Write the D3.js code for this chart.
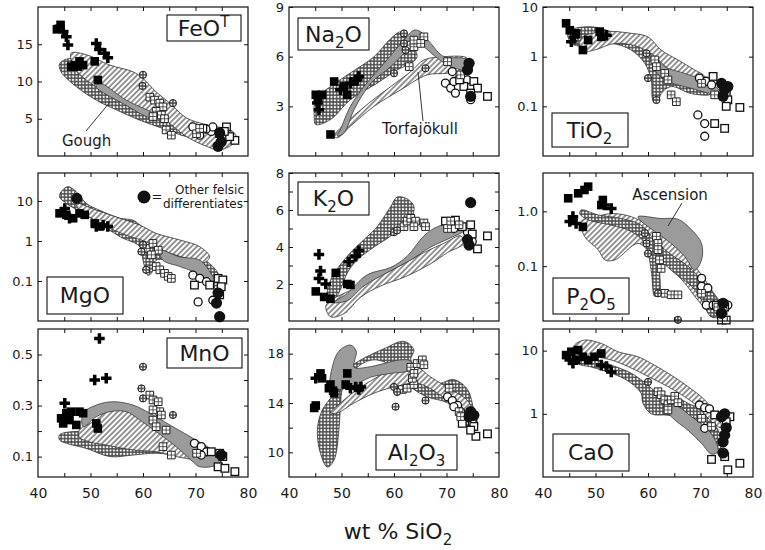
<!DOCTYPE html>
<html>
<head>
<meta charset="utf-8">
<script src="https://cdnjs.cloudflare.com/ajax/libs/d3/7.8.5/d3.min.js"></script>
<style>
body { margin: 0; background: #fff; }
text { font-family: "DejaVu Sans", "Liberation Sans", Arial, sans-serif; fill: #1a1a1a; }
</style>
</head>
<body>
<svg id="chart" width="765" height="550"></svg>
<script>
// ---DATA---//
// point codes: P plus, S filled square, C filled circle (other felsic),
// Q open square, O open circle, G gridded square, H hatched circle
var xLabels = ["40", "50", "60", "70", "80"];
var xMinor = [45, 50, 55, 60, 65, 70, 75];

var feotTicks = ["5", "10", "15"];
var na2oTicks = ["3", "6", "9"];
var tio2Ticks = ["10", "1", "0.1"];
var mgoTicks = ["10", "1", "0.1"];
var k2oTicks = ["8", "6", "4", "2"];
var p2o5Ticks = ["1.0", "0.1"];
var mnoTicks = ["0.5", "0.3", "0.1"];
var al2o3Ticks = ["18", "14", "10"];
var caoTicks = ["10", "1"];

var feotPoints = [
	["P",44.1,17.4],["P",44.8,16.7],["P",45.4,16.0],["P",45.7,14.9],["P",51.1,15.1],["P",51.7,14.3],["P",52.7,13.8],["P",53.3,13.2],
	["S",43.6,17.0],["S",44.3,17.6],["S",46.3,12.0],["S",47.0,12.2],["S",47.6,12.0],["S",48.6,12.2],["S",47.9,12.7],["S",50.8,12.7],["S",51.4,10.2],
	["H",60.0,10.9],["H",59.9,9.4],["H",65.7,7.1],
	["G",61.3,7.9],["G",62.2,7.5],["G",63.2,7.1],["G",63.8,6.6],["G",62.5,6.0],["G",63.5,5.5],["G",61.9,5.3],["G",64.1,5.0],["G",64.4,3.5],["G",65.4,2.8],["G",70.2,3.0],["G",70.8,3.7],
	["O",69.5,3.9],["O",70.8,2.8],["O",73.0,3.3],["O",73.3,3.9],["O",72.0,3.6],
	["Q",71.4,3.7],["Q",74.6,3.0],["Q",75.9,3.9],["Q",77.5,2.1],["Q",76.5,2.6],["Q",75.5,3.3],
	["C",74.3,1.3],["C",74.9,1.9],["C",74.6,3.1]
];
var feotGough = [[44.1,12.4],[46.0,13.1],[48.6,12.9],[50.5,11.8],[52.4,10.2],[55.6,8.9],[59.4,7.5],[62.5,6.2],[65.7,4.8],[70.8,3.3],[71.4,2.4],[68.3,2.6],[63.8,3.7],[59.4,4.8],[54.9,6.2],[51.1,7.5],[47.3,9.3],[44.4,11.3]];
var feotTorf = [[46.3,13.8],[49.2,13.6],[53.7,12.2],[58.1,11.3],[60.0,10.4],[62.5,8.6],[65.1,7.1],[68.3,5.1],[72.1,4.2],[77.1,3.3],[77.8,2.1],[74.6,0.8],[72.1,1.3],[68.3,2.6],[63.2,5.3],[58.1,6.6],[53.7,8.2],[49.2,10.2],[47.0,11.8]];
var feotAsc = [[51.1,9.3],[56.8,6.8],[60.6,5.3],[63.2,4.8],[62.5,5.5],[56.8,7.5],[51.7,9.8]];

var na2oPoints = [
	["S",45.1,3.7],["S",46.3,3.7],["S",48.6,4.5],["S",50.5,4.2],["S",51.1,3.7],["S",52.4,4.5],["S",47.9,1.3],["S",45.5,3.4],
	["P",45.4,3.2],["P",45.7,2.8],["P",49.8,4.0],["P",51.7,4.4],["P",53.0,4.6],["P",53.3,4.8],
	["H",60.0,5.0],["H",61.9,7.4],["H",61.9,6.8],["H",62.2,6.4],["H",66.0,5.3],
	["G",62.5,6.7],["G",63.8,6.6],["G",63.8,7.0],["G",65.7,7.2],["G",65.1,6.8],["G",62.9,5.4],["G",70.2,5.7],["G",72.7,4.9],
	["O",71.1,5.1],["O",69.8,4.4],["O",70.8,4.1],["O",71.7,3.8],["O",71.4,4.5],["O",74.6,3.4],["O",74.0,4.6],
	["Q",73.3,4.2],["Q",75.2,4.5],["Q",75.9,4.1],["Q",74.6,3.8],["Q",77.8,3.6],["Q",72.5,4.6],
	["C",74.3,5.6],["C",74.0,5.2],["C",74.6,3.6]
];
var na2oGough = [[45.1,1.9],[47.9,2.2],[51.7,3.4],[56.8,4.4],[60.6,5.2],[63.2,5.6],[64.4,6.0],[62.5,7.2],[61.3,7.5],[59.4,7.1],[56.2,6.0],[51.6,5.0],[47.9,4.2],[45.1,3.4],[44.8,2.4]];
var na2oTorf = [[48.6,1.2],[53.7,2.8],[59.4,4.2],[63.2,5.1],[65.7,5.8],[69.5,6.0],[74.0,5.9],[74.0,5.3],[70.2,5.0],[66.3,4.9],[61.3,4.0],[56.2,3.0],[51.7,1.8],[49.2,1.1]];
var na2oAsc = [[49.8,1.6],[51.7,3.0],[54.3,4.2],[58.1,5.6],[61.9,7.0],[63.8,7.6],[65.1,7.5],[67.0,6.8],[69.5,6.0],[73.3,5.9],[74.6,5.6],[74.0,5.2],[70.8,5.4],[68.3,5.9],[65.7,6.6],[64.4,6.9],[63.2,6.6],[59.4,5.4],[55.6,4.4],[52.4,2.8],[50.5,1.4],[49.2,1.2]];

var tio2Points = [
	["S",44.4,4.7],["S",45.1,3.4],["S",46.3,2.95],["S",47.6,1.36],["S",48.6,2.16],["S",51.1,2.5],["S",50.8,3.2],
	["P",45.4,2.0],["P",46.0,2.5],["P",52.1,2.7],
	["H",60.0,0.37],["H",59.7,1.17],["H",61.6,0.134],
	["G",61.3,0.86],["G",61.6,0.63],["G",63.2,0.46],["G",63.8,0.34],["G",64.4,0.17],["G",65.4,0.124],["G",70.2,0.29],["G",72.7,0.17],
	["O",69.8,0.37],["O",71.1,0.32],["O",72.1,0.27],["O",69.5,0.067],["O",70.8,0.045],["O",70.8,0.025],
	["Q",72.4,0.40],["Q",74.9,0.17],["Q",75.2,0.135],["Q",74.9,0.1],["Q",77.5,0.095],["Q",72.7,0.045],["Q",74.6,0.036],
	["C",74.0,0.29],["C",74.6,0.22],["C",74.3,0.16],["C",75.2,0.25]
];
var tio2Gough = [[44.8,3.2],[49.2,4.0],[53.7,2.95],[58.1,1.85],[60.6,1.17],[62.5,0.63],[64.4,0.43],[67.6,0.32],[70.8,0.34],[72.1,0.18],[68.3,0.18],[64.4,0.25],[62.5,0.18],[61.9,0.124],[61.0,0.13],[60.6,0.34],[59.4,0.73],[56.8,1.36],[53.0,1.85],[48.6,1.6],[45.4,1.85]];
var tio2Torf = [[47.3,2.35],[51.7,3.2],[56.8,2.95],[60.0,2.5],[62.5,1.36],[65.7,0.86],[68.9,0.54],[70.8,0.4],[70.8,0.25],[68.3,0.29],[64.4,0.5],[61.3,1.0],[58.1,1.59],[53.7,1.85],[49.8,1.36],[47.3,1.27]];
var tio2Asc = [[60.6,1.17],[63.2,0.63],[67.0,0.46],[72.1,0.29],[74.0,0.18],[72.1,0.18],[68.3,0.23],[63.8,0.32],[61.3,0.54]];

var mgoPoints = [
	["S",44.1,4.9],["S",45.4,4.5],["S",46.7,3.7],["S",47.9,4.9],["S",48.9,4.5],["S",50.8,2.75],["S",51.7,2.3],
	["P",45.1,6.5],["P",46.0,3.7],["P",51.1,2.3],["P",52.4,2.5],["P",53.3,2.3],
	["H",59.7,0.54],["H",60.6,0.19],["H",60.0,0.8],
	["G",60.6,0.65],["G",61.9,0.87],["G",62.9,0.59],["G",61.6,0.45],["G",62.5,0.23],["G",63.2,0.19],["G",64.1,0.155],["G",64.8,0.13],["G",65.4,0.116],
	["O",69.5,0.14],["O",70.8,0.116],["O",72.1,0.096],["O",70.5,0.03],["O",73.3,0.033],
	["Q",69.8,0.079],["Q",72.7,0.079],["Q",74.3,0.116],["Q",75.2,0.106],["Q",74.9,0.072],["Q",74.6,0.045],
	["C",47.4,11.6],["C",74.0,0.028],["C",74.6,0.0128],["C",74.3,0.05]
];
var mgoGough = [[44.1,12.6],[44.4,17],[45.7,22.8],[47.3,17],[49.2,8.7],[51.7,5.9],[55.6,3.7],[58.1,3.3],[60.6,1.9],[64.4,0.96],[68.3,0.65],[70.8,0.41],[73.3,0.23],[74.6,0.128],[74.6,0.06],[73.3,0.072],[71.4,0.155],[68.3,0.23],[64.4,0.33],[62.5,0.33],[61.6,0.155],[60.9,0.14],[60.0,0.33],[59.4,0.72],[55.6,1.28],[51.7,2.75],[48.6,4.9],[45.4,8.7]];
var mgoTorf = [[47.3,8.7],[51.1,5.9],[55.6,3.7],[59.4,2.5],[62.5,1.55],[67.0,1.06],[70.8,0.72],[72.7,0.4],[71.4,0.28],[68.3,0.37],[64.4,0.54],[60.6,0.96],[56.8,1.4],[53.0,2.3],[49.8,4.0],[47.9,5.9]];
var mgoAsc = [[63.2,0.59],[67.0,0.4],[70.8,0.33],[73.3,0.128],[73.8,0.09],[72.7,0.079],[70.2,0.155],[67.0,0.23],[63.8,0.33]];

var k2oPoints = [
	["S",45.1,1.6],["S",46.7,1.3],["S",47.9,1.2],["S",48.9,2.6],["S",51.1,2.0],["S",51.7,1.95],
	["P",45.7,3.6],["P",46.0,2.7],["P",45.7,2.3],["P",47.0,2.0],["P",51.4,3.2],["P",52.7,3.5],["P",53.3,3.8],
	["H",60.0,4.8],["H",60.6,4.9],
	["G",61.9,5.1],["G",62.5,5.4],["G",63.2,5.55],["G",64.1,5.4],["G",63.8,5.1],["G",65.7,5.3],["G",66.0,5.1],["G",70.2,5.0],["G",70.8,5.4],["G",72.4,5.2],
	["Q",69.8,5.4],["Q",71.7,5.45],["Q",73.0,5.1],["Q",74.6,5.2],["Q",74.9,4.7],["Q",75.9,3.9],["Q",77.8,4.6],
	["O",71.4,5.0],["O",74.0,4.8],["O",74.9,4.3],
	["C",74.6,6.4],["C",74.0,4.4],["C",74.3,4.1]
];
var k2oGough = [[47.3,1.1],[47.9,2.2],[51.1,3.5],[54.3,4.4],[56.8,5.1],[59.4,6.2],[60.6,6.7],[62.5,6.6],[63.8,6.2],[63.2,5.5],[61.3,5.1],[59.4,4.6],[56.2,4.0],[53.0,3.3],[51.1,2.6],[49.8,1.7],[48.6,1.1]];
var k2oTorf = [[47.0,0.8],[47.9,1.1],[50.5,1.5],[53.0,1.8],[55.6,2.2],[60.6,2.9],[65.7,3.7],[69.5,4.2],[72.7,4.6],[73.3,4.2],[70.2,3.7],[67.0,3.1],[62.2,2.4],[57.5,1.9],[53.7,1.3],[50.5,0.4],[47.9,0.23]];
var k2oAsc = [[48.6,1.0],[51.1,1.5],[54.9,2.5],[59.4,2.9],[62.5,3.5],[65.7,4.6],[68.3,5.1],[72.1,5.3],[73.3,4.9],[70.8,4.5],[67.0,4.0],[63.2,3.3],[58.6,2.6],[54.3,1.9],[51.1,1.1]];

var p2o5Points = [
	["S",44.8,1.73],["S",46.7,2.13],["S",47.9,2.45],["S",48.6,2.82],["S",51.4,1.61],["S",51.1,1.3],["S",47.6,0.52],
	["P",45.7,0.8],["P",45.1,0.65],["P",46.3,0.6],["P",53.0,1.13],["P",51.7,1.3],
	["H",59.4,0.4],["H",59.7,0.26],["H",60.0,0.17],["H",61.9,0.032],["H",65.7,0.0105],
	["G",61.6,0.35],["G",61.9,0.26],["G",61.9,0.2],["G",62.2,0.13],["G",62.5,0.091],["G",63.2,0.032],["G",64.4,0.03],["G",65.7,0.03],["G",70.2,0.032],["G",73.3,0.018],["G",74.3,0.015],
	["O",70.2,0.06],["O",70.2,0.043],["O",71.4,0.04],["O",71.1,0.0195],["O",72.4,0.0195],["O",75.2,0.0195],
	["Q",73.0,0.0195],["Q",74.6,0.018],["Q",74.0,0.0104],["Q",74.9,0.0104],
	["C",74.3,0.021],["C",74.0,0.0138]
];
var p2o5Gough = [[47.3,1.06],[50.5,0.86],[54.9,0.74],[58.7,0.56],[61.3,0.3],[63.8,0.18],[67.6,0.1],[70.8,0.049],[73.3,0.024],[74.6,0.013],[72.1,0.0118],[70.2,0.024],[68.3,0.043],[65.1,0.074],[62.5,0.112],[62.2,0.032],[61.3,0.028],[60.6,0.085],[59.4,0.26],[56.8,0.43],[53.0,0.56],[48.6,0.7],[47.0,0.9]];
var p2o5Torf = [[47.3,0.66],[49.8,0.78],[53.0,0.91],[56.8,0.8],[60.0,0.56],[63.2,0.35],[66.3,0.2],[69.5,0.085],[72.1,0.037],[74.0,0.018],[72.1,0.014],[69.5,0.024],[67.0,0.049],[63.8,0.1],[60.6,0.17],[58.1,0.26],[53.7,0.13],[51.8,0.13],[50.5,0.2],[47.9,0.35]];
var p2o5Asc = [[58.1,0.8],[62.5,0.74],[65.7,0.72],[68.3,0.46],[70.2,0.26],[70.2,0.13],[68.9,0.085],[67.0,0.15],[64.4,0.26],[61.3,0.43],[58.7,0.66]];

var mnoPoints = [
	["P",51.7,0.563],["P",45.1,0.309],["P",50.8,0.40],["P",53.0,0.407],["P",45.4,0.256],
	["S",44.4,0.25],["S",45.4,0.27],["S",46.3,0.276],["S",47.9,0.276],["S",48.6,0.27],["S",47.3,0.224],["S",51.1,0.23],["S",51.4,0.21],["S",46.0,0.243],["S",44.8,0.23],
	["H",60.0,0.452],["H",59.7,0.367],["H",60.0,0.328],["H",65.7,0.263],
	["G",61.3,0.341],["G",61.9,0.322],["G",62.9,0.315],["G",63.2,0.276],["G",63.5,0.263],["G",61.9,0.243],["G",62.5,0.217],["G",64.4,0.204],["G",63.8,0.139],["G",65.4,0.106],["G",70.2,0.113],["G",61.9,0.283],
	["O",69.8,0.152],["O",71.1,0.139],["O",72.1,0.119],["O",71.1,0.106],
	["Q",73.0,0.119],["Q",74.6,0.113],["Q",75.2,0.1],["Q",74.3,0.06],["Q",75.6,0.054],["Q",77.5,0.041],
	["C",74.9,0.106]
];
var mnoGough = [[44.1,0.185],[46.7,0.198],[51.7,0.191],[56.8,0.172],[61.3,0.152],[65.7,0.132],[70.8,0.113],[74.6,0.087],[75.2,0.06],[72.7,0.074],[67.6,0.1],[62.5,0.113],[58.1,0.106],[53.7,0.1],[49.2,0.132],[45.4,0.152],[44.1,0.165]];
var mnoTorf = [[47.9,0.204],[51.1,0.243],[53.0,0.276],[56.2,0.283],[59.4,0.256],[61.3,0.23],[63.2,0.204],[66.3,0.165],[70.2,0.119],[73.3,0.093],[70.8,0.087],[66.3,0.1],[62.5,0.119],[58.1,0.126],[53.0,0.145],[49.8,0.158],[47.9,0.175]];
var mnoAsc = [[48.6,0.27],[51.1,0.302],[54.3,0.315],[58.1,0.302],[61.3,0.27],[65.7,0.217],[69.5,0.172],[73.3,0.126],[75.2,0.1],[74.0,0.067],[70.8,0.06],[69.5,0.08],[66.3,0.139],[62.5,0.198],[59.4,0.243],[56.8,0.276],[53.7,0.276],[51.1,0.256],[48.6,0.217]];

var al2o3Points = [
	["S",44.8,13.6],["S",45.1,13.8],["S",46.0,16.4],["S",46.3,16.0],["S",47.6,15.2],["S",48.6,14.8],["S",47.9,15.5],["S",51.1,16.4],["S",50.8,15.5],["S",48.4,15.0],
	["P",45.1,16.0],["P",51.7,15.2],["P",52.7,15.3],["P",53.3,15.1],["P",53.7,15.3],
	["H",60.0,15.3],["H",60.3,13.7],["H",60.6,14.9],["H",66.0,14.2],
	["G",61.6,15.1],["G",62.5,15.2],["G",63.8,15.5],["G",63.5,16.0],["G",63.2,16.9],["G",64.4,17.2],["G",65.4,17.5],["G",65.7,17.1],["G",63.8,16.4],["G",70.5,15.2],["G",72.4,13.3],["G",72.7,12.9],
	["O",70.2,14.5],["O",71.1,14.2],["O",72.1,13.8],["O",71.4,13.7],["O",72.7,13.3],
	["Q",73.0,12.35],["Q",74.9,12.5],["Q",75.2,12.1],["Q",75.6,11.3],["Q",77.8,11.5],["Q",74.6,11.8],
	["C",74.6,13.3],["C",75.2,13.0],["C",74.3,12.9]
];
var al2o3Gough = [[47.3,8.8],[46.0,9.9],[45.4,11.8],[46.3,13.4],[48.6,14.8],[51.1,16.7],[53.7,17.5],[58.1,18.4],[61.9,19.0],[63.8,18.3],[63.2,17.5],[65.7,16.4],[68.3,15.6],[71.4,15.9],[74.0,15.1],[75.2,13.4],[75.9,12.1],[74.6,11.8],[72.7,12.9],[70.2,14.0],[66.3,14.5],[63.2,15.3],[60.0,16.9],[56.2,17.5],[53.0,16.9],[50.3,15.3],[49.8,13.7],[49.5,11.8],[48.6,9.4]];
var al2o3Torf = [[47.9,13.2],[49.8,14.0],[53.0,15.1],[56.8,16.1],[60.6,16.9],[64.4,16.9],[67.0,16.1],[70.8,15.1],[74.0,14.2],[75.2,12.9],[74.0,12.6],[71.4,13.7],[68.3,14.8],[64.4,15.6],[60.0,15.3],[56.2,14.8],[52.4,14.0],[49.2,13.2]];
var al2o3Asc = [[47.9,15.3],[48.3,17.0],[49.5,18.2],[51.7,18.7],[52.8,18.2],[52.4,16.9],[54.9,16.9],[58.1,17.2],[61.3,17.5],[63.2,17.4],[63.2,16.7],[59.4,16.4],[55.6,16.1],[51.7,15.3],[49.2,15.1]];

var caoPoints = [
	["S",44.4,8.5],["S",45.4,9.6],["S",46.7,10.2],["S",47.6,8.0],["S",48.6,7.1],["S",49.8,8.0],["S",51.1,9.0],["S",46.3,7.1],
	["P",45.1,7.1],["P",45.7,6.3],["P",51.1,5.9],["P",52.1,5.6],["P",53.0,4.6],
	["H",60.0,3.2],
	["G",61.9,2.24],["G",62.5,2.0],["G",63.2,1.66],["G",63.8,1.4],["G",64.4,1.66],["G",65.1,1.9],["G",65.7,1.5],["G",63.8,1.15],["G",70.2,0.85],["G",72.1,0.63],
	["O",69.8,1.38],["O",70.8,1.25],["O",71.7,1.2],["O",70.8,0.59],
	["Q",72.7,0.96],["Q",75.6,0.9],["Q",74.6,0.21],["Q",72.1,0.19],["Q",75.2,0.13],["Q",77.5,0.165],["Q",74.9,0.75],
	["C",74.6,1.0],["C",74.9,0.6],["C",74.6,0.46],["C",74.3,0.36],["C",74.3,0.24],["C",74.0,0.9]
];
var caoGough = [[46.7,9.0],[49.8,7.5],[53.0,5.9],[56.8,4.4],[60.0,2.86],[61.9,2.1],[65.7,1.77],[68.3,1.38],[70.8,1.17],[72.7,0.7],[74.0,0.38],[73.3,0.24],[72.1,0.29],[70.2,0.5],[67.0,0.8],[63.8,0.95],[60.6,1.0],[59.0,1.5],[58.7,2.1],[56.2,3.3],[53.0,4.4],[49.2,5.5],[46.7,6.3]];
var caoTorf = [[46.0,12.3],[47.9,14.7],[51.1,13.0],[54.3,9.6],[58.1,8.0],[60.6,6.3],[64.4,4.1],[67.6,2.7],[70.8,1.66],[73.3,0.9],[74.0,0.6],[72.1,0.75],[69.5,1.3],[67.0,1.86],[63.8,2.7],[60.0,3.9],[56.2,5.6],[53.0,7.1],[49.8,8.0],[47.3,8.0],[45.4,9.0]];
var caoAsc = [[63.2,1.5],[65.7,1.3],[68.3,0.9],[70.8,0.63],[72.7,0.4],[73.3,0.25],[72.1,0.23],[70.2,0.34],[67.6,0.55],[65.1,0.8],[63.8,1.05]];

// ---LAYOUT---//
var colX = [38, 289, 543];
var rowY = [7, 173, 329];
var rowH = [149, 148, 148];
var W = 210;

var panels = [
	{ title: [["FeO",0],["T",1]], col: 0, row: 0, log: false, domain: [0, 20], ticks: feotTicks, minor: [], points: feotPoints, gough: feotGough, torf: feotTorf, asc: feotAsc, box: [167, 15, 74, 26] },
	{ title: [["Na",0],["2",-1],["O",0]], col: 1, row: 0, log: false, domain: [0, 9], ticks: na2oTicks, minor: [], points: na2oPoints, gough: na2oGough, torf: na2oTorf, asc: na2oAsc, box: [298, 18, 71, 32] },
	{ title: [["TiO",0],["2",-1]], col: 2, row: 0, log: true, domain: [0.01, 10], ticks: tio2Ticks, minor: [], points: tio2Points, gough: tio2Gough, torf: tio2Torf, asc: tio2Asc, box: [552, 113, 76, 34] },
	{ title: [["MgO",0]], col: 0, row: 1, log: true, domain: [0.01, 50], ticks: mgoTicks, minor: [], points: mgoPoints, gough: mgoGough, torf: mgoTorf, asc: mgoAsc, box: [47, 277, 76, 37] },
	{ title: [["K",0],["2",-1],["O",0]], col: 1, row: 1, log: false, domain: [0, 8], ticks: k2oTicks, minor: [1, 3, 5, 7], points: k2oPoints, gough: k2oGough, torf: k2oTorf, asc: k2oAsc, box: [298, 182, 71, 33] },
	{ title: [["P",0],["2",-1],["O",0],["5",-1]], col: 2, row: 1, log: true, domain: [0.01, 5], ticks: p2o5Ticks, minor: [], points: p2o5Points, gough: p2o5Gough, torf: p2o5Torf, asc: p2o5Asc, box: [553, 278, 76, 36], torfFirst: true },
	{ title: [["MnO",0]], col: 0, row: 2, log: false, domain: [0.02, 0.6], ticks: mnoTicks, minor: [0.2, 0.4], points: mnoPoints, gough: mnoGough, torf: mnoTorf, asc: mnoAsc, box: [167, 338, 75, 30] },
	{ title: [["Al",0],["2",-1],["O",0],["3",-1]], col: 1, row: 2, log: false, domain: [8, 20], ticks: al2o3Ticks, minor: [12, 16], points: al2o3Points, gough: al2o3Gough, torf: al2o3Torf, asc: al2o3Asc, box: [376, 435, 81, 35] },
	{ title: [["CaO",0]], col: 2, row: 2, log: true, domain: [0.1, 22], ticks: caoTicks, minor: [], points: caoPoints, gough: caoGough, torf: caoTorf, asc: caoAsc, box: [553, 434, 76, 37] }
];

var drawOrder = ["O", "Q", "G", "H", "S", "P", "C"];

// ---SETUP---//
var svg = d3.select("#chart");
svg.append("rect").attr("width", 765).attr("height", 550).attr("fill", "#fff");

var defs = svg.append("defs");

// Gough: fine mesh
var mesh = defs.append("pattern").attr("id", "mesh")
	.attr("patternUnits", "userSpaceOnUse").attr("width", 3.4).attr("height", 3.4);
mesh.append("rect").attr("width", 3.4).attr("height", 3.4).attr("fill", "#4e4e4e");
mesh.append("circle").attr("cx", 1.7).attr("cy", 1.7).attr("r", 1.1).attr("fill", "#fff");

// Torfajokull: diagonal hatch
var diag = defs.append("pattern").attr("id", "diag")
	.attr("patternUnits", "userSpaceOnUse").attr("width", 3.8).attr("height", 3.8)
	.attr("patternTransform", "rotate(45)");
diag.append("rect").attr("width", 3.8).attr("height", 3.8).attr("fill", "#fff");
diag.append("line").attr("x1", 1.9).attr("y1", 0).attr("x2", 1.9).attr("y2", 3.8)
	.attr("stroke", "#2e2e2e").attr("stroke-width", 1);

var fieldLine = d3.line().curve(d3.curveCatmullRomClosed.alpha(0.5));

// ---PANELS---//
panels.forEach(function(p, pi) {

	var x0 = colX[p.col], y0 = rowY[p.row], h = rowH[p.row];

	var x = d3.scaleLinear().domain([40, 80]).range([x0, x0 + W]);
	var y = (p.log ? d3.scaleLog() : d3.scaleLinear()).domain(p.domain).range([y0 + h, y0]);

	var g = svg.append("g").attr("class", "panel");

	defs.append("clipPath").attr("id", "clip" + pi)
		.append("rect").attr("x", x0).attr("y", y0).attr("width", W).attr("height", h);

	var fields = g.append("g").attr("clip-path", "url(#clip" + pi + ")");
	var line = fieldLine.x(function(d) { return x(d[0]); }).y(function(d) { return y(d[1]); });

	var goughField = function() {
		fields.append("path").attr("d", line(p.gough))
			.attr("fill", "url(#mesh)").attr("stroke", "#333").attr("stroke-width", 0.8);
	};
	var torfField = function() {
		fields.append("path").attr("d", line(p.torf))
			.attr("fill", "url(#diag)").attr("stroke", "#333").attr("stroke-width", 0.8);
	};
	if (p.torfFirst) { torfField(); goughField(); } else { goughField(); torfField(); }
	fields.append("path").attr("d", line(p.asc))
		.attr("fill", "#9b9b9b").attr("stroke", "#3c3c3c").attr("stroke-width", 0.8);

	// ---points---//
	var pts = p.points.slice().sort(function(a, b) {
		return drawOrder.indexOf(a[0]) - drawOrder.indexOf(b[0]);
	});

	g.append("g").selectAll("g.pt").data(pts).join("g")
		.attr("class", "pt")
		.attr("transform", function(d) { return "translate(" + x(d[1]) + "," + y(d[2]) + ")"; })
		.each(function(d) {
			var s = d3.select(this);
			switch (d[0]) {
			case "P":
				s.append("path").attr("d", d3.symbol(d3.symbolCross, 62)()).attr("fill", "#000");
				break;
			case "S":
				s.append("rect").attr("x", -4.3).attr("y", -4.3).attr("width", 8.6).attr("height", 8.6).attr("fill", "#000");
				break;
			case "C":
				s.append("circle").attr("r", 5.6).attr("fill", "#111");
				break;
			case "Q":
				s.append("rect").attr("x", -3.8).attr("y", -3.8).attr("width", 7.6).attr("height", 7.6)
					.attr("fill", "#fff").attr("stroke", "#111").attr("stroke-width", 1.3);
				break;
			case "O":
				s.append("circle").attr("r", 4).attr("fill", "#fff").attr("stroke", "#111").attr("stroke-width", 1.3);
				break;
			case "G":
				s.append("path").attr("d", "M-3.8,-3.8h7.6v7.6h-7.6z")
					.attr("fill", "#fff").attr("stroke", "#222").attr("stroke-width", 1);
				s.append("path").attr("d", "M0,-3.8v7.6M-3.8,0h7.6")
					.attr("stroke", "#333").attr("stroke-width", 0.8);
				break;
			case "H":
				s.append("circle").attr("r", 3.6).attr("fill", "url(#mesh)")
					.attr("stroke", "#222").attr("stroke-width", 1);
				break;
			}
		});

	// ---frame---//
	g.append("rect").attr("x", x0).attr("y", y0).attr("width", W).attr("height", h)
		.attr("fill", "none").attr("stroke", "#111").attr("stroke-width", 1.2);

	// ---axes---//
	var tickVals = p.ticks.map(Number);
	var allTicks = tickVals.concat(p.minor);

	var yLeft = g.append("g").attr("transform", "translate(" + x0 + ",0)")
		.call(d3.axisLeft(y).tickValues(tickVals)
			.tickFormat(function(d, i) { return p.ticks[i]; })
			.tickSize(-4).tickSizeOuter(0).tickPadding(5));
	g.append("g").attr("transform", "translate(" + x0 + ",0)")
		.call(d3.axisLeft(y).tickValues(p.minor).tickFormat("").tickSize(-4).tickSizeOuter(0));
	g.append("g").attr("transform", "translate(" + (x0 + W) + ",0)")
		.call(d3.axisRight(y).tickValues(allTicks).tickFormat("").tickSize(-4).tickSizeOuter(0));
	g.append("g").attr("transform", "translate(0," + y0 + ")")
		.call(d3.axisTop(x).tickValues(xMinor).tickFormat("").tickSize(-4).tickSizeOuter(0));
	g.append("g").attr("transform", "translate(0," + (y0 + h) + ")")
		.call(d3.axisBottom(x).tickValues(xMinor).tickFormat("").tickSize(-4).tickSizeOuter(0));

	if (p.row === 2) {
		g.append("g").attr("class", "xlab").attr("transform", "translate(0," + (y0 + h) + ")")
			.call(d3.axisBottom(x).tickValues(xLabels.map(Number))
				.tickFormat(function(d, i) { return xLabels[i]; })
				.tickSize(0).tickPadding(11));
	}

	g.selectAll(".domain").remove();
	g.selectAll(".tick line").attr("stroke", "#111").attr("stroke-width", 1);
	yLeft.selectAll("text").attr("font-size", 13).attr("fill", "#1a1a1a")
		.attr("font-family", "DejaVu Sans");
	g.selectAll(".xlab text").attr("font-size", 14).attr("fill", "#1a1a1a")
		.attr("font-family", "DejaVu Sans");

	// ---title box---//
	var b = p.box;
	g.append("rect").attr("x", b[0]).attr("y", b[1]).attr("width", b[2]).attr("height", b[3])
		.attr("fill", "#fff").attr("stroke", "#111").attr("stroke-width", 1.1);
	var t = g.append("text").attr("x", b[0]).attr("y", b[1] + b[3] / 2 + 7.5)
		.attr("font-size", 22);
	var shift = 0;
	p.title.forEach(function(part) {
		var target = part[1] === -1 ? 6 : (part[1] === 1 ? -9 : 0);
		var ts = t.append("tspan").text(part[0]).attr("dy", target - shift);
		if (part[1] !== 0) ts.attr("font-size", 15);
		shift = target;
	});
	// centre the title in its box from its measured width
	var tw = t.node().getBBox().width;
	t.attr("x", b[0] + (b[2] - tw) / 2);

});

// ---ANNOTATIONS---//
function note(txt, tx, ty, anchor, lx1, ly1, lx2, ly2) {
	svg.append("line").attr("x1", lx1).attr("y1", ly1).attr("x2", lx2).attr("y2", ly2)
		.attr("stroke", "#222").attr("stroke-width", 0.9);
	svg.append("text").attr("x", tx).attr("y", ty).attr("text-anchor", anchor)
		.attr("font-size", 15).text(txt);
}
note("Gough", 62, 146, "start", 86, 131, 110, 102);
note("Torfajökull", 420, 134, "middle", 423, 121, 418, 72);
note("Ascension", 670, 200, "middle", 682, 203, 668, 226);

// legend in MgO panel
svg.append("circle").attr("cx", 144).attr("cy", 197).attr("r", 6.5).attr("fill", "#111");
svg.append("text").attr("x", 157).attr("y", 201).attr("text-anchor", "middle")
	.attr("font-size", 13).text("=");
svg.append("text").attr("x", 244).attr("y", 194).attr("text-anchor", "end")
	.attr("font-size", 12).text("Other felsic");
svg.append("text").attr("x", 243).attr("y", 208).attr("text-anchor", "end")
	.attr("font-size", 12).text("differentiates");

// x axis title
var xt = svg.append("text").attr("x", 398).attr("y", 539).attr("text-anchor", "middle")
	.attr("font-size", 22);
xt.append("tspan").text("wt % SiO");
xt.append("tspan").text("2").attr("font-size", 15).attr("dy", 6);
</script>
</body>
</html>
